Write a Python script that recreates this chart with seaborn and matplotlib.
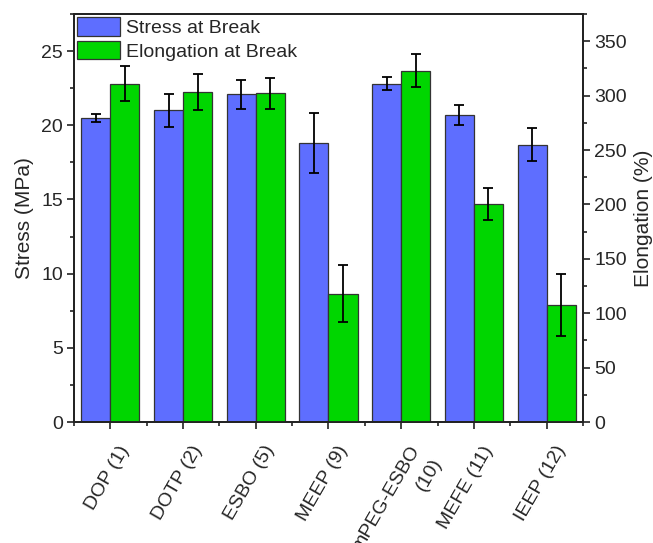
import pandas as pd
import matplotlib.pyplot as plt
import matplotlib.transforms as mtransforms
import seaborn as sns
import numpy as np
from matplotlib.ticker import MultipleLocator, FixedLocator

# --- data ---
samples = ["DOP (1)", "DOTP (2)", "ESBO (5)", "MEEP (9)", "mPEG-ESBO\n(10)", "MEFE (11)", "IEEP (12)"]
stress = [20.5, 21.0, 22.1, 18.8, 22.8, 20.7, 18.7]          # MPa
stress_err = [0.27, 1.13, 0.98, 2.0, 0.45, 0.68, 1.1]
elong = [311, 303, 302, 118, 323, 200, 108]                 # %
elong_err = [16, 16.5, 14, 26, 15.3, 14.7, 28.5]

series = ["Stress at Break", "Elongation at Break"]
colors = {"Stress at Break": "#5E6EFF", "Elongation at Break": "#00D600"}

df_s = pd.DataFrame({"sample": samples, "value": stress, "series": series[0]})
df_e = pd.DataFrame({"sample": samples, "value": elong, "series": series[1]})

sns.set_style("white")
plt.rcParams['font.family'] = ['Liberation Sans', 'DejaVu Sans']
plt.rcParams['font.size'] = 14

fig = plt.figure(figsize=(6.53, 5.43), dpi=100)
ax1 = fig.add_axes([0.1133, 0.2228, 0.7795, 0.7514])
ax2 = ax1.twinx()

# both axes know both hue levels so each series sits in its own dodge slot
bar_kw = dict(width=0.8, edgecolor="#333333", linewidth=0.9, saturation=1, dodge=True)
sns.barplot(data=df_s, x="sample", y="value", hue="series", hue_order=series,
            order=samples, palette=colors, ax=ax1, legend=False, **bar_kw)
sns.barplot(data=df_e, x="sample", y="value", hue="series", hue_order=series,
            order=samples, palette=colors, ax=ax2, legend=True, **bar_kw)

# error bars placed on the bar centres seaborn computed
def add_err(ax, err):
    bars = sorted([p for p in ax.patches if p.get_height() > 0], key=lambda p: p.get_x())
    xs = [p.get_x() + p.get_width() / 2 for p in bars]
    hs = [p.get_height() for p in bars]
    ax.errorbar(xs, hs, yerr=err, fmt="none", ecolor="black", elinewidth=1.3,
                capsize=3.5, capthick=1.3, zorder=5)

add_err(ax1, stress_err)
add_err(ax2, elong_err)

ax1.set_xlim(-0.5, len(samples) - 0.5)
ax1.set_ylim(0, 27.5)
ax2.set_ylim(0, 375)

ax1.set_xlabel("")
ax2.set_xlabel("")
ax1.set_ylabel("Stress (MPa)", fontsize=15, labelpad=5)
ax2.set_ylabel("Elongation (%)", fontsize=15, labelpad=5)

ax1.yaxis.set_major_locator(MultipleLocator(5))
ax1.yaxis.set_minor_locator(MultipleLocator(2.5))
ax2.yaxis.set_major_locator(MultipleLocator(50))
ax2.yaxis.set_minor_locator(MultipleLocator(25))
ax1.xaxis.set_minor_locator(FixedLocator(np.arange(-0.5, len(samples), 1.0)))

for ax in (ax1, ax2):
    for sp in ax.spines.values():
        sp.set_color("#222222")
        sp.set_linewidth(1.3)
    ax.tick_params(which="major", direction="out", length=5, width=1.2, color="#222222",
                   labelsize=14, pad=3)
    ax.tick_params(which="minor", direction="out", length=2.6, width=1.2, color="#222222")
ax1.tick_params(axis="y", which="both", left=True, right=False)
ax2.tick_params(axis="y", which="both", left=False, right=True)
ax1.tick_params(axis="x", which="both", bottom=True, top=False)
ax2.tick_params(axis="x", which="both", bottom=False, top=False, labelbottom=False)

ax1.set_xticks(range(len(samples)))
ax1.set_xticklabels(samples, rotation=60, ha="right", va="top",
                    rotation_mode="anchor", fontsize=14, linespacing=1.6)
shift = mtransforms.ScaledTranslation(0.075, -0.095, fig.dpi_scale_trans)
for lbl in ax1.get_xticklabels():
    lbl.set_transform(lbl.get_transform() + shift)

sns.move_legend(ax2, "upper left", title=None, frameon=False, fontsize=14,
                bbox_to_anchor=(0.0, 1.0), borderaxespad=0.15, borderpad=0.0,
                handlelength=2.2, handleheight=1.1, labelspacing=0.19, handletextpad=0.35)

fig.savefig("out.png", dpi=100)
